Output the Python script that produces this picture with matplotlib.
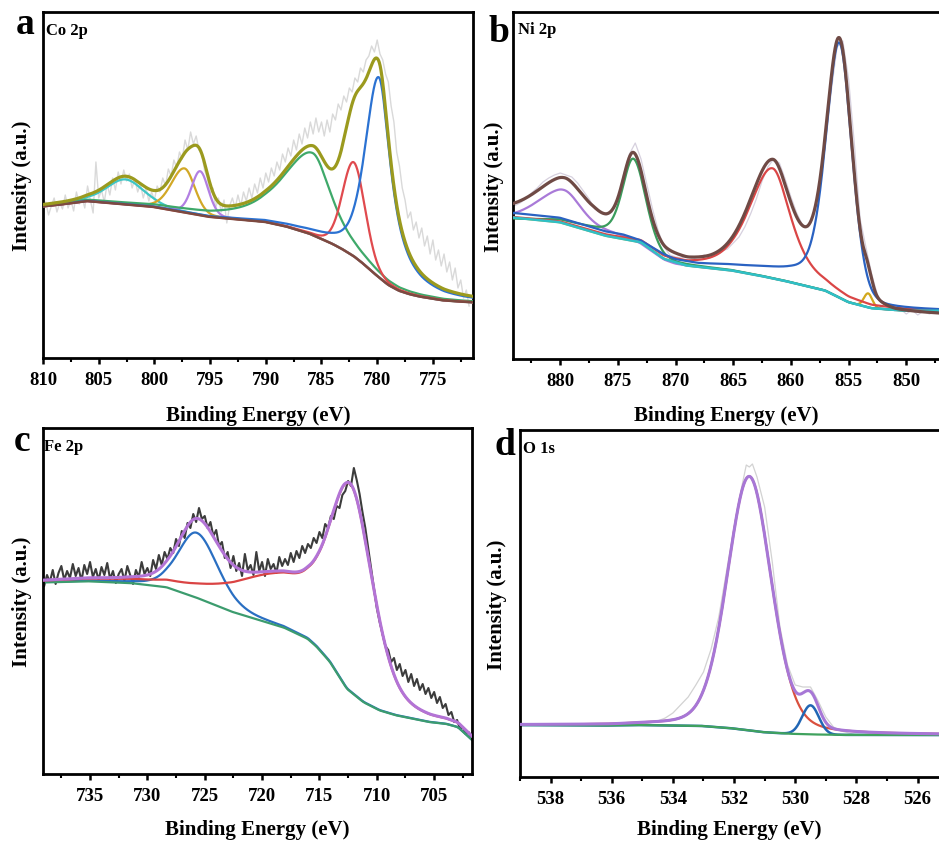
import numpy as np
import matplotlib
matplotlib.use("Agg")
import matplotlib.pyplot as plt
from matplotlib.ticker import MultipleLocator

plt.rcParams['font.family'] = ['Liberation Serif', 'DejaVu Serif']
plt.rcParams['font.weight'] = 'bold'

# ---------------- Co 2p ----------------
co_bg_E = [771, 772, 774, 776, 777, 778, 779, 780, 781, 782, 783, 784, 786, 788, 790, 793, 795, 797, 800, 803, 806, 808, 810.5]
co_bg_I = [55.5, 56, 57.5, 61, 63.5, 67, 73, 82, 92, 101, 108, 114, 124, 131, 136, 139, 141, 145, 151, 154, 157, 154, 151]
# peak fit parameters: center, height, half-width low-BE side, half-width high-BE side, L-fraction low, L-fraction high
co_centers = [802.6, 797.3, 795.9, 785.8, 782.1, 779.85]
co_heights = [25, 44, 44, 82, 94, 200]
co_wlo = [2.0, 1.1, 0.9, 2.0, 1.2, 1.3]
co_whi = [2.0, 1.4, 0.9, 3.2, 1.2, 1.45]
co_etalo = [0.3, 0.2, 0.2, 0.7, 0.15, 1.0]
co_etahi = [0.3, 0.2, 0.2, 0.7, 0.15, 0.5]
co_colors = ['#3ec6c6', '#d2a826', '#b27fe2', '#3fa96a', '#e04a4e', '#2b72d2']
co_raw_start, co_raw_step = 810.0, 0.25
co_raw_I = [148, 156, 143, 152, 160, 146, 155, 149, 163, 150, 158, 147, 166, 154, 161, 150,
            172, 158, 145, 196, 160, 168, 156, 174, 163, 180, 168, 186, 174, 188, 177, 184,
            170, 179, 166, 174, 160, 170, 157, 166, 158, 172, 166, 180, 172, 189, 182, 198,
            190, 206, 199, 218, 208, 226, 214, 222, 208, 204, 188, 180, 165, 170, 150, 160,
            146, 158, 135, 152, 160, 150, 163, 152, 166, 157, 170, 160, 174, 165, 180, 170,
            185, 176, 190, 182, 196, 188, 204, 196, 210, 202, 218, 208, 224, 214, 230, 220,
            236, 224, 240, 226, 236, 222, 238, 226, 244, 238, 254, 248, 262, 256, 270, 266,
            280, 276, 290, 286, 298, 302, 312, 306, 318, 304, 298, 284, 276, 252, 236, 206,
            192, 170, 158, 140, 146, 128, 136, 120, 130, 112, 122, 104, 118, 98, 108, 92,
            104, 86, 96, 78, 90, 70, 78, 60, 68, 52]

# ---------------- Ni 2p ----------------
ni_bg_E = [846, 850, 853, 855, 857, 860, 862, 865, 869, 871, 873, 876, 880, 885]
ni_bg_I = [48.3, 48.3, 50.7, 56.7, 68.3, 76.7, 81.7, 88.3, 93.3, 100, 116.7, 123, 136.7, 142.5]
ni_bgb_E = [846, 852, 853, 854, 855, 856, 857, 858, 859, 860, 862, 865, 868, 870, 871, 873, 874.5, 876, 880, 885]
ni_bgb_I = [48.3, 49.5, 51, 54, 60, 68, 76, 80, 82, 85, 89, 93, 95, 99, 104, 118, 124, 127, 141, 147]
ni_bgg_E = [846, 850, 853, 855, 857, 860, 862, 865, 869, 870, 871, 872, 873, 874, 875, 876, 878, 880, 885]
ni_bgg_I = [48.3, 48.3, 50.7, 56.7, 68.3, 76.7, 81.7, 88.3, 93.3, 95, 99, 107, 115, 120, 124, 127, 133, 139, 140.5]
ni_bge_E = [846, 851, 853, 854, 855, 856, 857, 858, 859, 861, 863, 865, 867, 869, 871, 873, 875, 876, 877, 878, 880, 885]
ni_bge_I = [43, 44, 48, 52, 58, 65, 72, 78, 81, 84, 87, 89, 91, 94, 102, 118, 128, 134, 141, 145, 149, 149]
ni_centers = [879.7, 873.65, 861.6, 855.8, 853.3]
ni_heights = [31, 82, 110, 250, 14]
ni_wlo = [1.7, 1.25, 1.9, 1.3, 0.43]
ni_whi = [2.6, 1.1, 2.4, 1.35, 0.43]
ni_etalo = [0.3, 0.3, 0.7, 0.25, 0.0]
ni_etahi = [0.3, 0.3, 0.5, 0.35, 0.0]
ni_colors = ['#a97ad8', '#3a9c5c', '#da4646', '#2a62c2', '#d2a81c']
ni_raw_start, ni_raw_step = 884.0, 0.5
ni_raw_I = [153, 156, 160, 166, 171, 177, 181, 184, 186, 184, 182, 176, 168, 160, 150, 146,
            144, 147, 160, 185, 205, 216, 200, 175, 150, 128, 112, 104, 102, 101, 103, 100,
            102, 104, 101, 106, 108, 110, 116, 122, 132, 145, 160, 178, 192, 200, 196, 180,
            162, 146, 134, 132, 145, 172, 215, 268, 312, 318, 280, 215, 140, 112, 85, 64,
            55, 52, 48, 50, 45, 49, 44, 48, 45, 47, 46]

# ---------------- Fe 2p ----------------
fe_bg_E = [701.3, 701.8, 702.9, 703.9, 705.3, 708.2, 709.7, 711.15, 712.6, 714.06, 715.2, 716, 718, 719.6, 722.5, 725.4, 728.3, 731.2, 735, 739.3]
fe_bg_I = [30, 35, 46.7, 50, 51.7, 58.3, 63.3, 71.7, 85, 111.7, 126.7, 135, 146, 151.7, 161.7, 175, 186.7, 190.7, 192.7, 191.5]
fe_centers = [712.3, 718.5, 725.7]     # Fe 2p3/2 main, its satellite, Fe 2p1/2
fe_heights = [198, 40, 65]
fe_wlo = [2.3, 4.0, 2.2]
fe_whi = [2.2, 5.0, 1.9]
fe_etalo = [0.3, 0.5, 0.3]
fe_etahi = [0.6, 0.5, 0.3]
fe_raw_start, fe_raw_step = 739.0, 0.25
fe_raw_I = [188, 199, 192, 204, 190, 201, 208, 194, 203, 196, 210, 198, 206, 193, 209, 200,
            212, 197, 205, 194, 207, 199, 211, 195, 203, 191, 200, 205, 193, 208, 199, 190,
            204, 197, 212, 200, 206, 198, 214, 205, 219, 209, 222, 215, 226, 221, 235, 228,
            243, 236, 251, 246, 260, 252, 266, 255, 258, 246, 252, 238, 244, 228, 232, 216,
            222, 206, 218, 203, 211, 198, 220, 204, 209, 199, 222, 203, 212, 198, 215, 205,
            210, 201, 217, 208, 215, 209, 221, 212, 223, 216, 228, 221, 230, 226, 236, 231,
            242, 236, 250, 246, 258, 255, 268, 266, 279, 283, 293, 288, 306, 294, 280, 262,
            246, 226, 206, 186, 166, 152, 140, 128, 124, 112, 116, 104, 110, 98, 104, 92,
            100, 88, 95, 84, 90, 80, 86, 76, 82, 71, 77, 66, 70, 59, 62, 52, 54, 45, 47, 40,
            42, 36]

# ---------------- O 1s ----------------
o_bg_E = [525, 528, 529, 530, 531, 532, 533, 534, 535, 536, 537, 539.5]
o_bg_I = [42, 42, 42.3, 43, 44.7, 48.5, 51, 51.5, 52, 51.5, 51.7, 52]
o_centers = [531.5, 529.5]
o_heights = [254, 29]
o_wlo = [0.85, 0.32]
o_whi = [0.85, 0.32]
o_etalo = [0.25, 0.0]
o_etahi = [0.2, 0.0]
o_raw_E = [539, 538.5, 538, 537.5, 537, 536.5, 536, 535.5, 535, 534.75, 534.5, 534.25, 534,
           533.75, 533.5, 533.25, 533, 532.75, 532.5, 532.25, 532, 531.75, 531.6, 531.5, 531.4,
           531.25, 531, 530.75, 530.5, 530.25, 530, 529.75, 529.5, 529.25, 529, 528.75, 528.5,
           528, 527, 526, 525.3]
o_raw_I = [52, 52, 52, 52, 52, 51.5, 51.5, 52, 53, 54, 56, 59, 64,
           72, 80, 92, 105, 128, 160, 205, 250, 290, 312, 310, 313,
           300, 270, 215, 150, 112, 92, 90, 90, 76, 60, 50, 46,
           42, 42, 42, 42]


def pv(E, c, h, wlo, whi, etalo, etahi):
    w = np.where(E < c, wlo, whi)
    eta = np.where(E < c, etalo, etahi)
    x = (E - c) / w
    return h * (eta / (1 + x ** 2) + (1 - eta) * np.exp(-np.log(2) * x ** 2))


def base(E, xa, ya, k=21):
    y = np.interp(E, xa, ya)
    pad = np.pad(y, k // 2, mode='edge')
    return np.convolve(pad, np.ones(k) / k, mode='valid')


def raw_axis(start, step, vals):
    return start - step * np.arange(len(vals))


W, H = 939, 845
fig = plt.figure(figsize=(W / 100, H / 100), dpi=100)


def make_ax(x0, x1, y0, y1):
    ax = fig.add_axes([x0 / W, 1 - y1 / H, (x1 - x0) / W, (y1 - y0) / H])
    for s in ax.spines.values():
        s.set_linewidth(2.0)
    ax.set_yticks([])
    ax.tick_params(axis='x', which='major', direction='out', length=4.5, width=1.8,
                   labelsize=13.5, pad=5)
    ax.tick_params(axis='x', which='minor', direction='out', length=3, width=1.5)
    return ax, (y1 - y0)


def labels(x0, x1, y0, y1, letter, lx, ly, tag, tx, ty, ylx, xly):
    fig.text(lx / W, 1 - ly / H, letter, fontsize=27, fontweight='bold', va='baseline', ha='left')
    fig.text(tx / W, 1 - ty / H, tag, fontsize=12, fontweight='bold', va='baseline', ha='left')
    fig.text(ylx / W, 1 - (y0 + y1) / 2 / H, 'Intensity (a.u.)', rotation=90, fontsize=15,
             fontweight='bold', va='center', ha='center')
    fig.text((x0 + x1) / 2 / W, 1 - xly / H, 'Binding Energy (eV)', fontsize=15,
             fontweight='bold', va='center', ha='center')


# ----- panel a -----
ax, hgt = make_ax(43, 473, 13, 359)
E = np.linspace(771.0, 810.5, 2000)
bg = base(E, co_bg_E, co_bg_I)
peaks = [pv(E, co_centers[i], co_heights[i], co_wlo[i], co_whi[i], co_etalo[i], co_etahi[i])
         for i in range(len(co_centers))]
ax.plot(raw_axis(co_raw_start, co_raw_step, co_raw_I), co_raw_I, color='#d9d9d9', lw=1.0, zorder=1)
for p, col in zip(peaks, co_colors):
    ax.plot(E, bg + p, color=col, lw=1.6, zorder=3)
ax.plot(E, bg, color='#7d4a40', lw=1.8, zorder=3.5)
ax.plot(E, bg + np.sum(peaks, axis=0), color='#9b9a1e', lw=2.3, zorder=4)
ax.set_xlim(810, 771.4)
ax.set_ylim(0, hgt)
ax.xaxis.set_major_locator(MultipleLocator(5))
ax.xaxis.set_minor_locator(MultipleLocator(2.5))
labels(43, 473, 13, 359, 'a', 16, 34, 'Co 2p', 46, 35, 22, 416)

# ----- panel b -----
ax, hgt = make_ax(513, 942, 13, 360)
E = np.linspace(846.0, 885.0, 2000)
bgc = base(E, ni_bg_E, ni_bg_I)
bgb = base(E, ni_bgb_E, ni_bgb_I)
bgg = base(E, ni_bgg_E, ni_bgg_I)
bge = base(E, ni_bge_E, ni_bge_I)
peaks = [pv(E, ni_centers[i], ni_heights[i], ni_wlo[i], ni_whi[i], ni_etalo[i], ni_etahi[i])
         for i in range(len(ni_centers))]
bases = [bgg, bgg, bgc, bgb, bgc]
zs = [3, 3, 3, 3, 2.5]
ax.plot(raw_axis(ni_raw_start, ni_raw_step, ni_raw_I), ni_raw_I, color='#d6d0de', lw=0.9, zorder=1)
for p, b0, col, z in zip(peaks, bases, ni_colors, zs):
    ax.plot(E, b0 + p, color=col, lw=1.6, zorder=z)
ax.plot(E, bgc, color='#2fc0c6', lw=1.8, zorder=3.2)
ax.plot(E, bge + np.sum(peaks, axis=0), color='#6f4a45', lw=2.3, zorder=4)
ax.set_xlim(884.1, 846.9)
ax.set_ylim(0, hgt)
ax.xaxis.set_major_locator(MultipleLocator(5))
ax.xaxis.set_minor_locator(MultipleLocator(2.5))
labels(513, 939, 13, 360, 'b', 488, 42, 'Ni 2p', 518, 34, 494, 416)

# ----- panel c -----
ax, hgt = make_ax(43, 472, 429, 775)
E = np.linspace(701.3, 739.3, 2000)
bg = base(E, fe_bg_E, fe_bg_I)
peaks = [pv(E, fe_centers[i], fe_heights[i], fe_wlo[i], fe_whi[i], fe_etalo[i], fe_etahi[i])
         for i in range(len(fe_centers))]
ax.plot(raw_axis(fe_raw_start, fe_raw_step, fe_raw_I), fe_raw_I, color='#3c3c3c', lw=1.5, zorder=1)
ax.plot(E, bg + peaks[2], color='#2a6fc2', lw=1.6, zorder=2)
ax.plot(E, bg, color='#3c9c6e', lw=1.6, zorder=2.5)
ax.plot(E, bg + peaks[0] + peaks[1], color='#da4444', lw=1.6, zorder=3)
ax.plot(E, bg + np.sum(peaks, axis=0), color='#b374d6', lw=2.2, zorder=4)
ax.set_xlim(739.1, 701.7)
ax.set_ylim(0, hgt)
ax.xaxis.set_major_locator(MultipleLocator(5))
ax.xaxis.set_minor_locator(MultipleLocator(2.5))
labels(43, 472, 429, 775, 'c', 14, 451, 'Fe 2p', 44, 451, 22, 830)

# ----- panel d -----
ax, hgt = make_ax(520, 942, 431, 778)
E = np.linspace(525.0, 539.5, 2000)
bg = base(E, o_bg_E, o_bg_I)
peaks = [pv(E, o_centers[i], o_heights[i], o_wlo[i], o_whi[i], o_etalo[i], o_etahi[i])
         for i in range(len(o_centers))]
ax.plot(o_raw_E, o_raw_I, color='#d2d2d2', lw=0.9, zorder=1)
ax.plot(E, bg + peaks[0], color='#d9503e', lw=1.6, zorder=2)
ax.plot(E, bg + peaks[1], color='#2166b4', lw=1.8, zorder=2.2)
ax.plot(E, bg, color='#40a25e', lw=1.6, zorder=2.5)
ax.plot(E, bg + np.sum(peaks, axis=0), color='#a777d6', lw=2.2, zorder=4)
ax.set_xlim(539.0, 525.2)
ax.set_ylim(0, hgt)
ax.xaxis.set_major_locator(MultipleLocator(2))
ax.xaxis.set_minor_locator(MultipleLocator(1))
labels(520, 939, 431, 778, 'd', 494, 455, 'O 1s', 523, 453, 497, 830)

fig.savefig('out.png', dpi=100)
